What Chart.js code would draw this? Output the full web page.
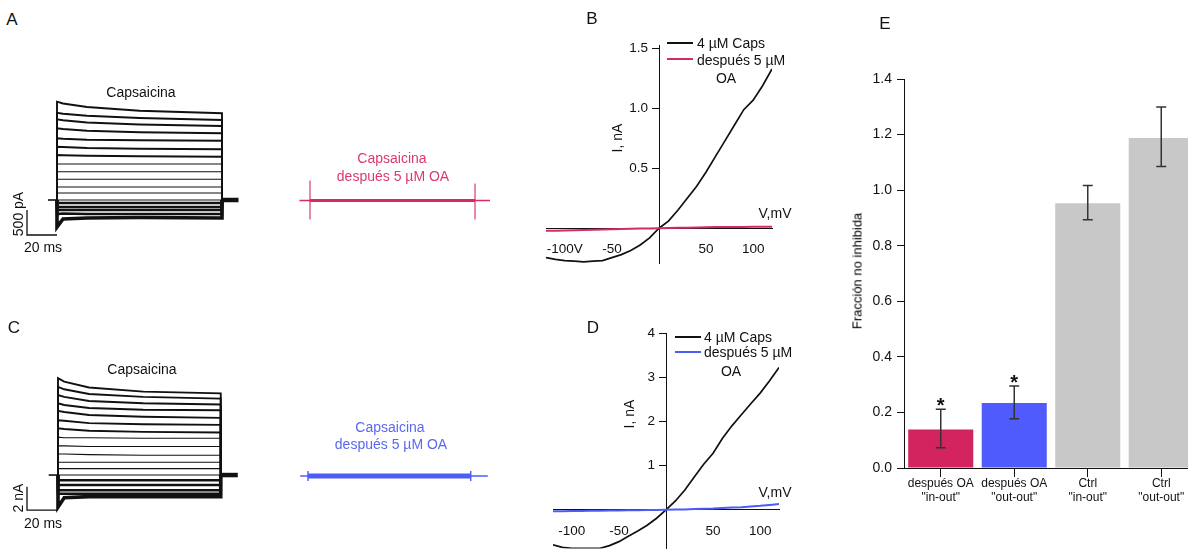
<!DOCTYPE html>
<html>
<head>
<meta charset="utf-8">
<script src="https://cdn.jsdelivr.net/npm/chart.js@4.4.0/dist/chart.umd.min.js"></script>
<style>
  html, body { margin: 0; padding: 0; background: #fff; }
  body { width: 1188px; height: 556px; position: relative; overflow: hidden;
         font-family: 'Liberation Sans', Arial, Helvetica, sans-serif; color: #111; }
  canvas { position: absolute; }
  .t { position: absolute; white-space: nowrap; font-size: 14px; line-height: 1; transform: translate(-50%, -50%); }
  .l { transform: translate(0, -50%); }
  .r { transform: translate(-50%, -50%) rotate(-90deg); }
  .big { font-size: 17px; }
  .red { color: #dc3a6c; }
  .blue { color: #5a68f0; }
  .key { position: absolute; height: 2px; width: 26px; }
</style>
</head>
<body>
<canvas id="cA" width="300" height="170" style="left:0;top:80px"></canvas>
<canvas id="cAoa" width="220" height="100" style="left:290px;top:140px"></canvas>
<canvas id="cC" width="300" height="165" style="left:0;top:365px"></canvas>
<canvas id="cCoa" width="220" height="70" style="left:290px;top:440px"></canvas>
<canvas id="cB" width="280" height="280" style="left:520px;top:0"></canvas>
<canvas id="cD" width="280" height="256" style="left:520px;top:300px"></canvas>
<canvas id="cE" width="375" height="556" style="left:830px;top:0"></canvas>

<!-- panel A -->
<div class="t big" style="left:12px;top:19px">A</div>
<div class="t" style="left:141px;top:92px">Capsaicina</div>
<div class="t r" style="left:18px;top:214px">500 pA</div>
<div class="t" style="left:43px;top:247px">20 ms</div>
<div class="t red" style="left:392px;top:158px">Capsaicina</div>
<div class="t red" style="left:393px;top:176px">después 5 µM OA</div>

<!-- panel B -->
<div class="t big" style="left:592px;top:18px">B</div>
<div class="key" style="left:667px;top:42px;background:#111"></div>
<div class="t l" style="left:697px;top:43px">4 µM Caps</div>
<div class="key" style="left:667px;top:58px;background:#d62a60"></div>
<div class="t l" style="left:697px;top:60px">después 5 µM</div>
<div class="t" style="left:726px;top:78px">OA</div>
<div class="t r" style="left:617px;top:138px">I, nA</div>
<div class="t" style="left:775px;top:213px">V,mV</div>

<!-- panel C -->
<div class="t big" style="left:14px;top:327px">C</div>
<div class="t" style="left:142px;top:369px">Capsaicina</div>
<div class="t r" style="left:18px;top:498px">2 nA</div>
<div class="t" style="left:43px;top:523px">20 ms</div>
<div class="t blue" style="left:390px;top:427px">Capsaicina</div>
<div class="t blue" style="left:391px;top:444px">después 5 µM OA</div>

<!-- panel D -->
<div class="t big" style="left:593px;top:327px">D</div>
<div class="key" style="left:675px;top:336px;background:#111"></div>
<div class="t l" style="left:704px;top:337px">4 µM Caps</div>
<div class="key" style="left:675px;top:351px;background:#4d5cf6"></div>
<div class="t l" style="left:704px;top:352px">después 5 µM</div>
<div class="t" style="left:731px;top:371px">OA</div>
<div class="t r" style="left:629px;top:414px">I, nA</div>
<div class="t" style="left:775px;top:492px">V,mV</div>

<!-- panel E -->
<div class="t big" style="left:885px;top:23px">E</div>
<div class="t r" style="left:857px;top:271px;font-size:13px;color:#000">Fracción no inhibida</div>

<script>
// ---------- panel A / C: current traces ----------
const tA = [0, 4, 20, 55, 110];        // ms
const tracesA = [                       // pA
  [1966, 1930, 1860, 1785, 1735],
  [1745, 1725, 1685, 1640, 1600],
  [1615, 1595, 1550, 1510, 1480],
  [1435, 1420, 1385, 1355, 1335],
  [1235, 1225, 1205, 1195, 1185],
  [1065, 1060, 1040, 1025, 1015],
  [900, 895, 885, 875, 865],
  [720, 720, 720, 720, 720],
  [565, 565, 565, 565, 565],
  [415, 415, 415, 415, 415],
  [260, 260, 260, 260, 260],
  [140, 140, 140, 140, 140],
  [0, 0, 0, 0, 0],
  [-60, -60, -60, -60, -60],
  [-140, -140, -140, -140, -140],
  [-200, -200, -200, -200, -200],
  [-280, -270, -280, -280, -280],
  [-540, -380, -360, -350, -360]
];
const tC = [0, 4, 20, 55, 105];         // ms
const tracesC = [                       // nA
  [8.3, 8.0, 7.5, 7.15, 7.0],
  [7.55, 7.35, 6.95, 6.7, 6.55],
  [6.85, 6.7, 6.35, 6.15, 6.05],
  [6.15, 6.0, 5.75, 5.6, 5.55],
  [5.5, 5.4, 5.15, 5.0, 4.9],
  [4.7, 4.65, 4.45, 4.35, 4.3],
  [4.0, 3.95, 3.8, 3.7, 3.65],
  [3.25, 3.2, 3.2, 3.15, 3.15],
  [2.5, 2.5, 2.45, 2.45, 2.45],
  [1.8, 1.8, 1.75, 1.7, 1.7],
  [1.1, 1.1, 1.1, 1.1, 1.1],
  [0.55, 0.55, 0.55, 0.55, 0.55],
  [0, 0, 0, 0, 0],
  [-0.45, -0.45, -0.45, -0.45, -0.45],
  [-0.85, -0.85, -0.85, -0.85, -0.85],
  [-1.3, -1.3, -1.3, -1.3, -1.3],
  [-1.6, -1.6, -1.6, -1.6, -1.6],
  [-2.75, -1.95, -1.85, -1.85, -1.85]
];
const holdA = [-6, 0], tailA = [110, 121];
const holdC = [-6, 0], tailC = [105, 116];
const scaleA = { ms: 20, amp: 500, top: -200 };   // 20 ms, 500 pA
const scaleC = { ms: 20, amp: 2, top: -1 };       // 20 ms, 2 nA

// after oleic acid
const oaSpanA = [-7, 0, 110, 120];       // ms: thin start, step on, step off, thin end
const oaSpikesA = [[400, -380], [340, -380]];   // pA at step on / off
const oaSpanC = [-5, 0, 105, 116];
const oaCapsC = [0.43, -0.43];           // nA

// ---------- panel B / D: I-V ----------
const ivV = [-120, -110, -100, -90, -80, -70, -60, -50, -40, -30, -20, -10, 0,
             10, 20, 30, 40, 50, 60, 70, 80, 90, 100, 110, 120];
const capsB = [-0.245, -0.26, -0.27, -0.275, -0.28, -0.275, -0.27, -0.245, -0.22, -0.185, -0.14, -0.08, 0,
               0.06, 0.15, 0.25, 0.35, 0.47, 0.6, 0.73, 0.86, 0.99, 1.07, 1.19, 1.33];
const oaB = [-0.02, -0.02, -0.018, -0.017, -0.015, -0.013, -0.011, -0.009, -0.007, -0.005, -0.003, -0.002, 0,
             0.002, 0.004, 0.005, 0.007, 0.008, 0.01, 0.01, 0.011, 0.011, 0.012, 0.012, 0.012];
const capsD = [-0.79, -0.85, -0.87, -0.87, -0.87, -0.87, -0.81, -0.72, -0.6, -0.48, -0.35, -0.19, 0,
               0.2, 0.45, 0.74, 1.03, 1.28, 1.62, 1.9, 2.15, 2.4, 2.64, 2.92, 3.22];
const oaD = [-0.03, -0.03, -0.028, -0.025, -0.022, -0.02, -0.016, -0.013, -0.01, -0.007, -0.005, -0.002, 0,
             0.005, 0.01, 0.018, 0.025, 0.03, 0.04, 0.05, 0.06, 0.075, 0.09, 0.11, 0.13];

// ---------- panel E ----------
const groups = [['después OA', '"in-out"'], ['después OA', '"out-out"'], ['Ctrl', '"in-out"'], ['Ctrl', '"out-out"']];
const fraction = [0.139, 0.234, 0.953, 1.188];
const errLow = [0.073, 0.177, 0.893, 1.085];
const errHigh = [0.211, 0.295, 1.017, 1.299];
const signif = [true, true, false, false];

const INK = '#111';
const RED = '#d62a60';
const BLUE = '#4d5cf6';
const GREY = '#c8c8c8';
const FONT = "'Liberation Sans', Arial, Helvetica, sans-serif";

function line(points, color, width, extra) {
  return Object.assign({
    data: points.map(([x, y]) => ({ x, y })),
    showLine: true, borderColor: color, borderWidth: width,
    pointRadius: 0, tension: 0, borderCapStyle: 'butt'
  }, extra || {});
}

function plain(id, xr, yr, datasets) {
  return new Chart(document.getElementById(id), {
    type: 'scatter',
    data: { datasets },
    options: {
      responsive: false, animation: false, events: [],
      layout: { padding: 0 },
      plugins: { legend: { display: false }, tooltip: { enabled: false } },
      scales: {
        x: { type: 'linear', display: false, min: xr[0], max: xr[1] },
        y: { type: 'linear', display: false, min: yr[0], max: yr[1] }
      }
    }
  });
}

function traceSets(t, traces, hold, tail, bar) {
  const end = t[t.length - 1];
  const sets = traces.map((v, i) => {
    const pts = [[0, 0]].concat(t.map((tt, k) => [tt, v[k]])).concat([[end, 0]]);
    let w = 1.1;
    if (i < 7) w = 1.9;
    else if (v[0] < 0) w = 2.6;
    if (i === traces.length - 1) w = 3.6;
    return line(pts, INK, w);
  });
  sets.push(line([[hold[0], 0], [hold[1], 0]], INK, 1.6));
  sets.push(line([[tail[0], 0], [tail[1], 0]], INK, 4.5));
  // scale bar
  sets.push(line([[-bar.ms, bar.top], [-bar.ms, bar.top - bar.amp], [0, bar.top - bar.amp]], INK, 1.3));
  return sets;
}

plain('cA', [-38, 162], [-1000, 2400], traceSets(tA, tracesA, holdA, tailA, scaleA));
plain('cC', [-37.42, 156.13], [-4.71, 9.43], traceSets(tC, tracesC, holdC, tailC, scaleC));

plain('cAoa', [-13.333, 133.333], [-790, 1210], [
  line([[oaSpanA[1], 0], [oaSpanA[2], 0]], RED, 3),
  line([[oaSpanA[0], 0], [oaSpanA[3], 0]], RED, 1.4),
  line([[oaSpanA[1], oaSpikesA[0][0]], [oaSpanA[1], oaSpikesA[0][1]]], RED, 1.1),
  line([[oaSpanA[2], oaSpikesA[1][0]], [oaSpanA[2], oaSpikesA[1][1]]], RED, 1.1)
]);

plain('cCoa', [-11.61, 130.32], [-2.914, 3.086], [
  line([[oaSpanC[1], 0], [oaSpanC[2], 0]], BLUE, 5),
  line([[oaSpanC[0], 0], [oaSpanC[3], 0]], BLUE, 1.4),
  line([[oaSpanC[1], oaCapsC[0]], [oaSpanC[1], oaCapsC[1]]], BLUE, 1.4),
  line([[oaSpanC[2], oaCapsC[0]], [oaSpanC[2], oaCapsC[1]]], BLUE, 1.4)
]);

function noPad(s) { s.paddingLeft = 0; s.paddingRight = 0; s.paddingTop = 0; s.paddingBottom = 0; }

// put the left y axis on V = 0 once the layout is done
const crossAtZero = {
  id: 'crossAtZero',
  afterLayout(chart) {
    const y = chart.scales.y;
    const px = chart.scales.x.getPixelForValue(0);
    y.left = px - 45;
    y.right = px;
    y.width = 45;
  }
};

function ivChart(id, pad, yr, ystep, caps, oa, oaColor, xFmt, yFmt) {
  return new Chart(document.getElementById(id), {
    type: 'scatter',
    data: { datasets: [
      line(ivV.map((v, i) => [v, oa[i]]), oaColor, 2, { order: 0 }),
      line(ivV.map((v, i) => [v, caps[i]]), INK, 1.7, { order: 1 })
    ] },
    options: {
      responsive: false, animation: false, events: [],
      layout: { padding: pad },
      plugins: { legend: { display: false }, tooltip: { enabled: false } },
      scales: {
        x: {
          type: 'linear', min: -120, max: 120, position: { y: 0 },
          afterFit: s => { s.height = 0; noPad(s); },
          border: { color: INK, width: 1 },
          grid: { drawOnChartArea: false, drawTicks: false },
          ticks: { stepSize: 50, includeBounds: false, padding: 13, maxRotation: 0, autoSkip: false,
                   color: INK, font: { family: FONT, size: 13.5 }, callback: xFmt }
        },
        y: {
          type: 'linear', min: yr[0], max: yr[1], position: 'left',
          afterFit: s => { s.width = 0; noPad(s); },
          border: { color: INK, width: 1 },
          grid: { drawOnChartArea: false, color: INK, tickLength: 7 },
          ticks: { stepSize: ystep, includeBounds: false, padding: 4, autoSkip: false,
                   color: INK, font: { family: FONT, size: 13.5 }, callback: yFmt }
        }
      }
    },
    plugins: [crossAtZero]
  });
}

ivChart('cB', { left: 26, right: 28, top: 45, bottom: 17 }, [-0.29, 1.53], 0.5, capsB, oaB, RED,
  v => v === 0 ? '' : (v === -100 ? '-100V' : String(v)),
  v => v === 0 ? '' : v.toFixed(1));
ivChart('cD', { left: 33, right: 21, top: 33, bottom: 7.5 }, [-0.875, 4], 1, capsD, oaD, BLUE,
  v => v === 0 ? '' : String(v),
  v => v === 0 ? '' : String(v));

// ---------- bar chart ----------
const stars = {
  id: 'stars',
  afterDatasetsDraw(chart) {
    const { ctx, scales: { x, y } } = chart;
    ctx.save();
    ctx.font = 'bold 20px ' + FONT;
    ctx.fillStyle = INK;
    ctx.textAlign = 'center';
    ctx.textBaseline = 'alphabetic';
    signif.forEach((s, i) => {
      if (s) ctx.fillText('*', x.getPixelForValue(i), y.getPixelForValue(errHigh[i]) + 3);
    });
    ctx.restore();
  }
};

new Chart(document.getElementById('cE'), {
  type: 'bar',
  data: {
    labels: groups,
    datasets: [
      { type: 'line', data: errHigh, showLine: false, pointStyle: 'line', pointRadius: 5,
        pointBorderColor: '#333', pointBorderWidth: 1.5, borderColor: '#333', order: 0 },
      { type: 'line', data: errLow, showLine: false, pointStyle: 'line', pointRadius: 5,
        pointBorderColor: '#333', pointBorderWidth: 1.5, borderColor: '#333', order: 0 },
      { data: errLow.map((lo, i) => [lo, errHigh[i]]), backgroundColor: '#333',
        maxBarThickness: 1.5, grouped: false, order: 1 },
      { data: fraction, backgroundColor: ['#d3245f', '#4f5bfd', GREY, GREY],
        barPercentage: 0.885, categoryPercentage: 1, order: 2 }
    ]
  },
  options: {
    responsive: false, animation: false, events: [],
    layout: { padding: { left: 34, right: 7, top: 79, bottom: 48 } },
    plugins: { legend: { display: false }, tooltip: { enabled: false } },
    scales: {
      x: {
        offset: true,
        afterFit: s => { s.height = 40; noPad(s); },
        border: { color: INK, width: 1 },
        grid: { offset: false, drawOnChartArea: false, color: INK, tickLength: 9 },
        ticks: { padding: 0, maxRotation: 0, autoSkip: false, color: INK,
                 font: { family: FONT, size: 12, lineHeight: 1.17 } }
      },
      y: {
        min: 0, max: 1.4,
        afterFit: s => { s.width = 40; noPad(s); },
        border: { color: INK, width: 1 },
        grid: { drawOnChartArea: false, color: INK, tickLength: 7 },
        ticks: { stepSize: 0.2, padding: 5, color: INK, font: { family: FONT, size: 14 },
                 callback: v => v.toFixed(1) }
      }
    }
  },
  plugins: [stars]
});
</script>
</body>
</html>
